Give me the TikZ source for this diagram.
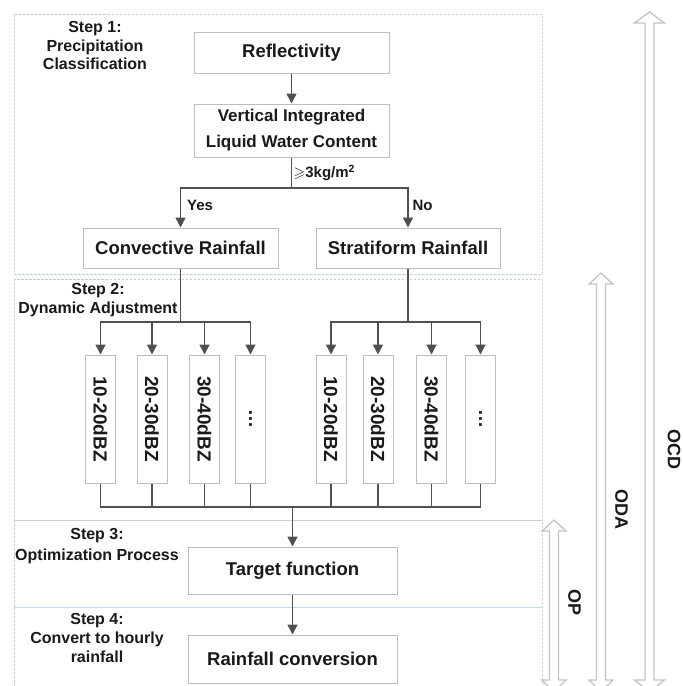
\documentclass[tikz,border=0pt]{standalone}
\usepackage{amssymb}
\usepackage{graphicx}
\usepackage{fontspec}
\setmainfont{Liberation Sans}
\usetikzlibrary{arrows.meta,calc}
\definecolor{boxgray}{HTML}{BDBDBD}
\definecolor{linegray}{HTML}{505050}
\definecolor{dashc}{HTML}{C5CFD8}
\definecolor{sepblue}{HTML}{C3DAE8}
\definecolor{arrgray}{HTML}{C4C4C4}
\definecolor{txt}{HTML}{1A1A1A}
\newcommand\hollowarr[3]{%
  \draw[bigarr] (#1,#2) -- ({#1+#3},{#2+11}) -- ({#1+4.5},{#2+11}) -- ({#1+4.5},680)
    -- ({#1+#3},680) -- (#1,692) -- ({#1-#3},680) -- ({#1-4.5},680)
    -- ({#1-4.5},{#2+11}) -- ({#1-#3},{#2+11}) -- cycle;}
\tikzset{
  box/.style={draw=boxgray, line width=1pt, fill=white, inner sep=0pt, text=txt,
    font=\fontsize{18.5}{22}\selectfont\bfseries},
  dbox/.style={box, minimum width=30, minimum height=128,
    font=\fontsize{19}{22}\selectfont\bfseries},
  conn/.style={draw=linegray, line width=1.5pt},
  arr/.style={conn, -{Triangle[length=10pt,width=10pt]}},
  steplbl/.style={align=center, text=txt, inner sep=0pt},
  smalllbl/.style={text=txt, inner sep=0pt, font=\fontsize{15}{18}\selectfont\bfseries},
  biglbl/.style={text=txt, inner sep=0pt, rotate=-90, font=\fontsize{18}{20}\selectfont\bfseries},
  dashbox/.style={draw=dashc, line width=0.8pt, dash pattern=on 2.5pt off 1.5pt},
  sepline/.style={draw=sepblue, line width=0.9pt},
  bigarr/.style={draw=arrgray, line width=1.3pt, line join=miter}
}
\begin{document}
\begin{tikzpicture}[x=1pt,y=-1pt]
\useasboundingbox (0,0) rectangle (683,686);
\clip (0,0) rectangle (683,686);
\fill[white] (0,0) rectangle (683,686);

% step regions
\draw[dashbox] (14,14) rectangle (542,274);
\draw[dashbox] (14,279) rectangle (542,520);
\draw[dashbox] (14,520) rectangle (542,700);
\draw[sepline] (14,607) -- (542,607);

% big hollow arrows
\hollowarr{649.5}{12}{15}
\hollowarr{601}{273}{12}
\hollowarr{554}{520}{12}
\node[biglbl] (ocd) at (674,449) {OCD};
\node[biglbl] (oda) at (621.5,509) {ODA};
\node[biglbl] (op) at (574.5,602) {OP};

% step labels
\node[steplbl, font=\fontsize{16}{18.5}\selectfont\bfseries] (st1) at (95,45.5) {Step 1:\\Precipitation\\Classification};
\node[steplbl, font=\fontsize{16}{19}\selectfont\bfseries] (st2) at (98,300) {Step 2:\\Dynamic Adjustment};
\node[steplbl, font=\fontsize{16}{21.5}\selectfont\bfseries] (st3) at (97,546) {Step 3:\\Optimization Process};
\node[steplbl, font=\fontsize{16}{19.2}\selectfont\bfseries] (st4) at (97,638) {Step 4:\\Convert to hourly\\rainfall};

% main boxes
\node[box, minimum width=195, minimum height=41] (refl) at (291.5,52.5) {Reflectivity};
\node[box, minimum width=195, minimum height=53, align=center,
  font=\fontsize{17}{26}\selectfont\bfseries] (vil) at (291.5,130.5) {Vertical Integrated\\Liquid Water Content};
\node[box, minimum width=195, minimum height=40] (conv) at (180.5,248) {Convective Rainfall};
\node[box, minimum width=184, minimum height=40] (strat) at (408,248) {Stratiform Rainfall};
\node[box, minimum width=209, minimum height=47] (target) at (292.5,570.5) {Target function};
\node[box, minimum width=209, minimum height=48] (rconv) at (292.5,659) {Rainfall conversion};

% dBZ boxes
\node[dbox] (c1) at (100.5,419) {\rotatebox{-90}{10-20dBZ}};
\node[dbox] (c2) at (152,419) {\rotatebox{-90}{20-30dBZ}};
\node[dbox] (c3) at (204.5,419) {\rotatebox{-90}{30-40dBZ}};
\node[dbox] (c4) at (250.5,419) {\rotatebox{-90}{…}};
\node[dbox] (r1) at (331,419) {\rotatebox{-90}{10-20dBZ}};
\node[dbox] (r2) at (378,419) {\rotatebox{-90}{20-30dBZ}};
\node[dbox] (r3) at (431.5,419) {\rotatebox{-90}{30-40dBZ}};
\node[dbox] (r4) at (480.5,419) {\rotatebox{-90}{…}};

% labels
\node[smalllbl] (yes) at (200,205) {Yes};
\node[smalllbl] (no) at (422.5,205) {No};
\node[smalllbl, anchor=west] (cond) at (293.5,173) {$\geqslant$3kg/m\textsuperscript{2}};

% connectors
\coordinate (split) at (291.5,188);
\coordinate (lb) at (180.5,322);
\coordinate (rb) at (408,322);
\coordinate (join) at (292.5,507);
\draw[arr] (refl.south) -- (vil.north);
\draw[conn] (vil.south) -- (split);
\draw[arr] (split) -| (conv.north);
\draw[arr] (split) -| (strat.north);
\draw[conn] (conv.south) -- (lb);
\draw[conn] (strat.south) -- (rb);
\foreach \n in {c1,c2,c3,c4} \draw[arr] (lb) -| (\n.north);
\foreach \n in {r1,r2,r3,r4} \draw[arr] (rb) -| (\n.north);
\foreach \n in {c1,c2,c3,c4,r1,r2,r3,r4} \draw[conn] (\n.south) |- (join);
\draw[arr] (join) -- (target.north);
\draw[arr] (target.south) -- (rconv.north);
\end{tikzpicture}
\end{document}
